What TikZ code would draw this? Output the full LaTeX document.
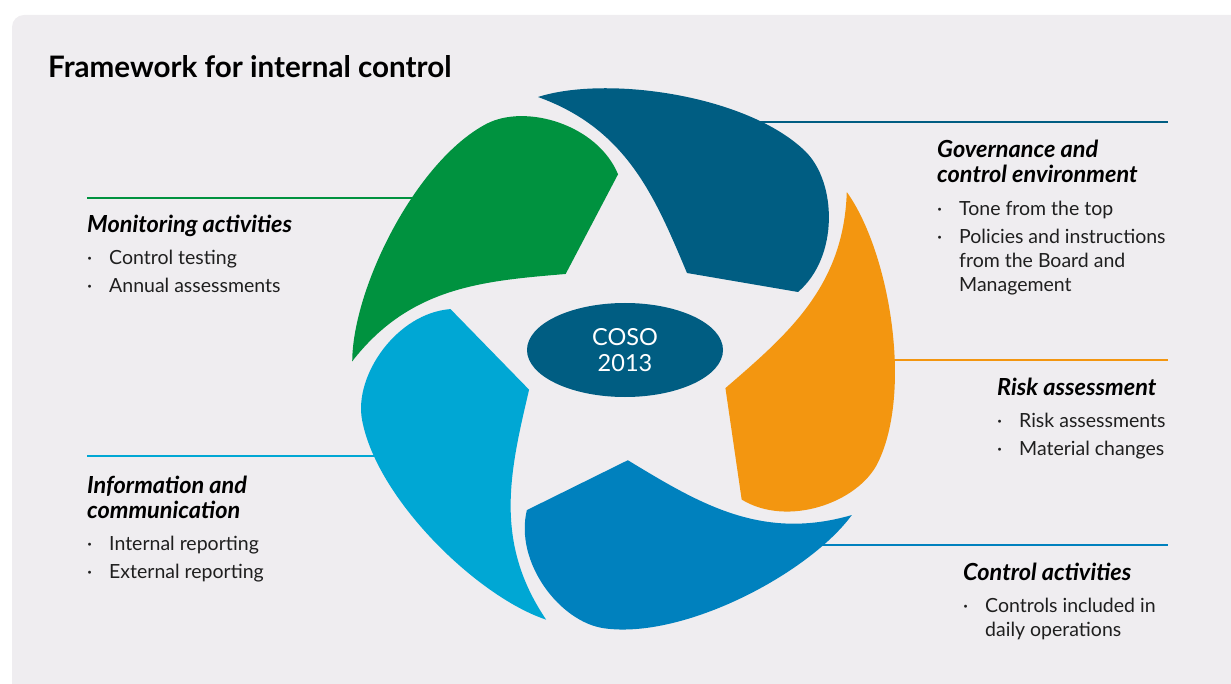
\documentclass[tikz,border=0pt]{standalone}
\usepackage{fontspec}
\setmainfont{Lato}
\usetikzlibrary{positioning,shapes.geometric}

\definecolor{panel}{RGB}{239,237,240}
\definecolor{cosoblue}{RGB}{0,93,130}
\definecolor{cosogreen}{RGB}{0,146,63}
\definecolor{cosoorange}{RGB}{243,150,16}
\definecolor{cosomid}{RGB}{0,129,190}
\definecolor{cosolight}{RGB}{0,167,212}
\newcommand{\bl}{\makebox[22pt][l]{·}}
\newcommand{\ind}{\hspace*{22pt}}

\begin{document}
\begin{tikzpicture}[x=1pt,y=-1pt,
  head/.style={anchor=base west,inner sep=0pt,font=\fontsize{23.5}{25}\selectfont\bfseries\itshape},
  items/.style={anchor=base west,inner sep=0pt,font=\fontsize{19.5}{24}\selectfont,text=black!88},
  rule/.style={line width=2pt}]
  \useasboundingbox (0,0) rectangle (1231,684);
  \clip (0,0) rectangle (1231,684);
  \fill[panel,rounded corners=12pt] (12,15) rectangle (1260,720);

  \node[anchor=base west,inner sep=0pt,font=\fontsize{29.6}{34}\selectfont\bfseries] (title) at (48,78) {Framework for internal control};

  % rules running out to the texts
  \coordinate (gov-a) at (740,122);  \coordinate (gov-b) at (1168,122);
  \coordinate (risk-a) at (880,360); \coordinate (risk-b) at (1168,360);
  \coordinate (ctrl-a) at (810,545); \coordinate (ctrl-b) at (1168,545);
  \coordinate (mon-a) at (87,198);   \coordinate (mon-b) at (440,198);
  \coordinate (info-a) at (87,456);  \coordinate (info-b) at (400,456);
  \draw[rule,cosoblue] (gov-a) -- (gov-b);
  \draw[rule,cosoorange] (risk-a) -- (risk-b);
  \draw[rule,cosomid] (ctrl-a) -- (ctrl-b);
  \draw[rule,cosogreen] (mon-a) -- (mon-b);
  \draw[rule,cosolight] (info-a) -- (info-b);

  % the five petals
  \foreach \ang/\col in {0/cosoblue,-72/cosoorange,-144/cosomid,-216/cosolight,-288/cosogreen}{
    \fill[\col,shift={(627,357)},rotate=\ang] (-89,-260)
      .. controls (-20,-282) and (120,-262) .. (178,-206)
      .. controls (210,-175) and (212,-100) .. (171,-65)
      -- (60,-84)
      .. controls (28,-160) and (0,-228) .. (-89,-260) -- cycle;
  }

  \node[ellipse,fill=cosoblue,text=white,minimum width=196pt,minimum height=94pt,inner sep=0pt,
    align=center,font=\fontsize{23.5}{26}\selectfont] (coso) at (625,350) {COSO\\2013};

  \node[head] (gov-head) at (937,158) {\begin{tabular}[t]{@{}l@{}}Governance and\\control environment\end{tabular}};
  \node[items] (gov-items) at (937,216) {\begin{tabular}[t]{@{}l@{}}\bl Tone from the top\\[4pt]
    \bl Policies and instructions\\ \ind from the Board and\\ \ind Management\end{tabular}};

  \node[head] (risk-head) at (997,395) {Risk assessment};
  \node[items] (risk-items) at (997,427) {\begin{tabular}[t]{@{}l@{}}\bl Risk assessments\\[4pt]
    \bl Material changes\end{tabular}};

  \node[head] (ctrl-head) at (963,580) {Control activities};
  \node[items] (ctrl-items) at (963,612) {\begin{tabular}[t]{@{}l@{}}\bl Controls included in\\ \ind daily operations\end{tabular}};

  \node[head] (mon-head) at (87,233) {Monitoring activities};
  \node[items] (mon-items) at (87,265) {\begin{tabular}[t]{@{}l@{}}\bl Control testing\\[4pt]
    \bl Annual assessments\end{tabular}};

  \node[head] (info-head) at (87,493) {\begin{tabular}[t]{@{}l@{}}Information and\\communication\end{tabular}};
  \node[items] (info-items) at (87,550) {\begin{tabular}[t]{@{}l@{}}\bl Internal reporting\\[4pt]
    \bl External reporting\end{tabular}};
\end{tikzpicture}
\end{document}
